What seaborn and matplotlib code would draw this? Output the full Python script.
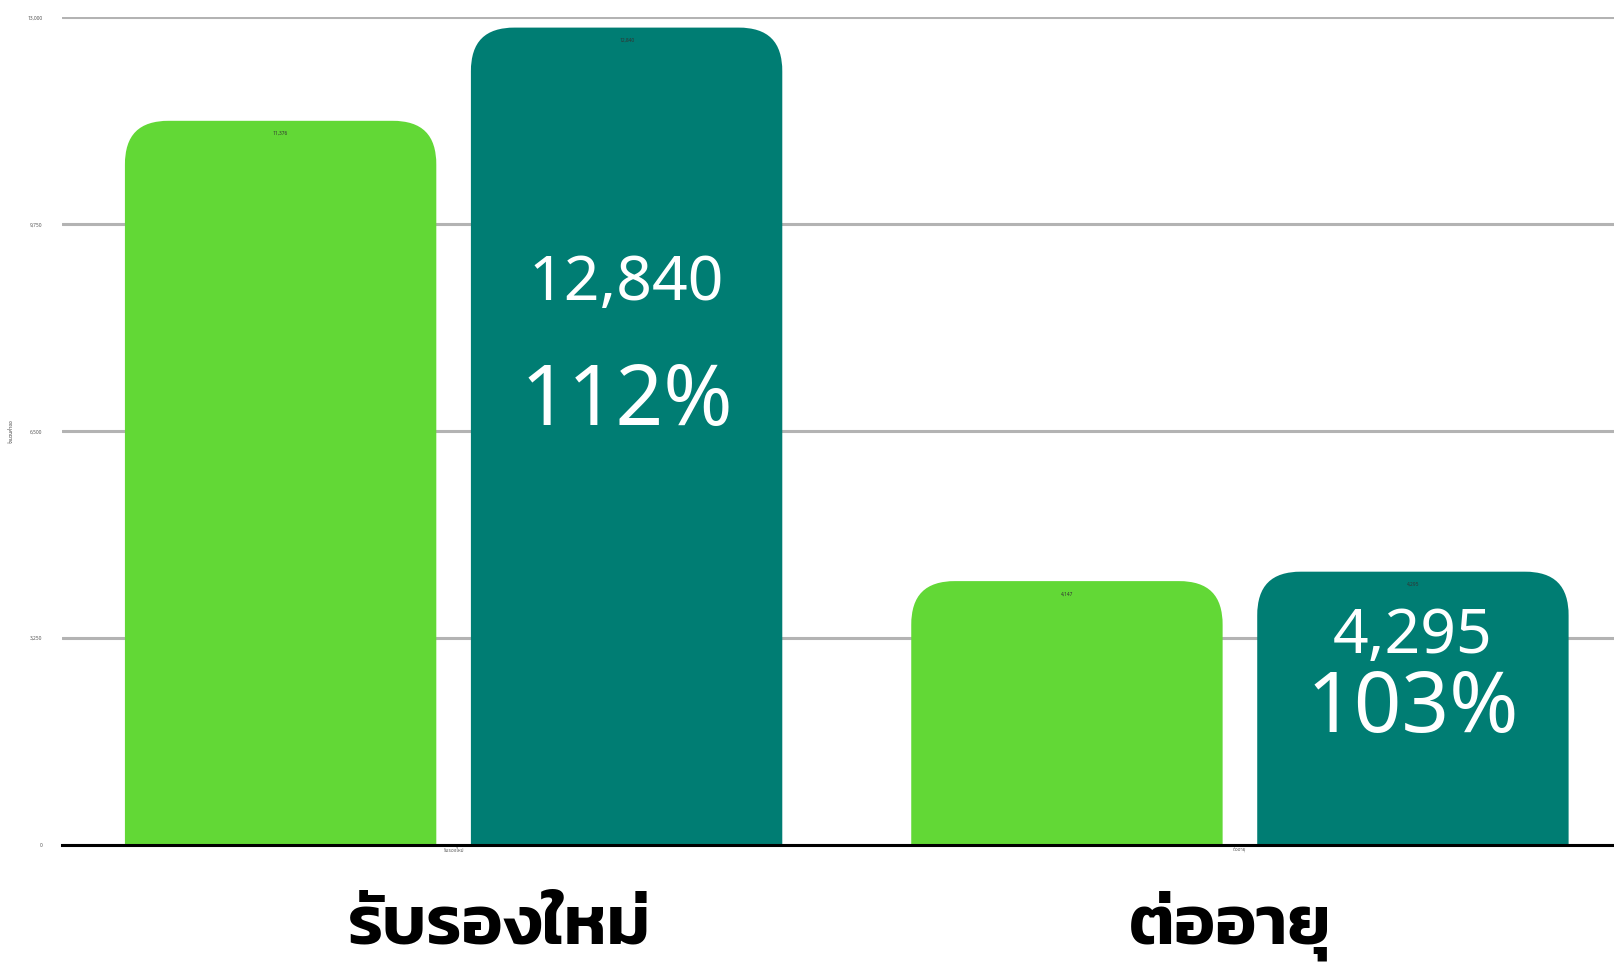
import pandas as pd
import matplotlib
matplotlib.use("Agg")
import matplotlib.pyplot as plt
import seaborn as sns
from matplotlib.path import Path
from matplotlib.patches import PathPatch

# data
categories = ["รับรองใหม่", "ต่ออายุ"]
series = ["เป้าหมาย", "ผลงาน"]
target = [11376, 4147]
actual = [12840, 4295]
percent = ["112%", "103%"]
y_ticks = [0, 3250, 6500, 9750, 13000]
y_label = "จำนวนคำขอ"

colors = ["#62D836", "#007D73"]

df = pd.DataFrame({
    "category": categories * 2,
    "series": [series[0]] * 2 + [series[1]] * 2,
    "value": target + actual,
})

sns.set_style("white")
thai = ["Anuphan", "IBM Plex Sans Thai", "Noto Sans Thai", "DejaVu Sans"]
thai_bold = ["Kanit", "Prompt", "IBM Plex Sans Thai", "DejaVu Sans"]
nums = ["Noto Sans", "DejaVu Sans"]
plt.rcParams["font.family"] = thai

W, H = 16.15, 9.67
fig = plt.figure(figsize=(W, H), dpi=100)
ax = fig.add_axes([0.0384, 0.126, 0.9616, 0.856])

sns.barplot(data=df, x="category", y="value", hue="series", palette=colors,
            width=0.88, gap=0.1, saturation=1, legend=False, ax=ax, zorder=3)

xlim = (-0.498, 1.477)
ylim = (0, 13000)
ax.set_xlim(xlim)
ax.set_ylim(ylim)

# tiny value labels just under the bar top
for cont in ax.containers:
    ax.bar_label(cont, labels=[f"{v:,.0f}" for v in cont.datavalues],
                 padding=-11, fontsize=3.5, color="#333333", zorder=5, family=nums)

# rounded top corners (radius in pixels -> data units)
ax_w_px = 0.9616 * W * 100
ax_h_px = 0.856 * H * 100
r_px = 44
rx = r_px * (xlim[1] - xlim[0]) / ax_w_px
ry = r_px * (ylim[1] - ylim[0]) / ax_h_px
k = 0.68
for p in list(ax.patches):
    x0, y0 = p.get_x(), p.get_y()
    w, h = p.get_width(), p.get_height()
    x1, y1 = x0 + w, y0 + h
    verts = [
        (x0, y0), (x0, y1 - ry),
        (x0, y1 - ry + k * ry), (x0 + rx - k * rx, y1), (x0 + rx, y1),
        (x1 - rx, y1),
        (x1 - rx + k * rx, y1), (x1, y1 - ry + k * ry), (x1, y1 - ry),
        (x1, y0), (x0, y0),
    ]
    codes = [Path.MOVETO, Path.LINETO,
             Path.CURVE4, Path.CURVE4, Path.CURVE4,
             Path.LINETO,
             Path.CURVE4, Path.CURVE4, Path.CURVE4,
             Path.LINETO, Path.CLOSEPOLY]
    ax.add_patch(PathPatch(Path(verts, codes), facecolor=p.get_facecolor(),
                           edgecolor="none", zorder=3))
    p.set_visible(False)

# big labels inside the dark bars
text_y = [(8820, 6940), (3270, 2130)]
for i, rect in enumerate(ax.containers[1]):
    cx = rect.get_x() + rect.get_width() / 2
    ax.text(cx, text_y[i][0], f"{actual[i]:,}", color="white", fontsize=45,
            ha="center", va="center", zorder=6, family=nums)
    ax.text(cx, text_y[i][1], percent[i], color="white", fontsize=60,
            ha="center", va="center", zorder=6, family=nums)

# category captions under the axis
caption_dx = [33, -7]
for i, cat in enumerate(categories):
    ax.annotate(cat, xy=(i, 0), xycoords=("data", "axes fraction"),
                xytext=(caption_dx[i], -71), textcoords="offset points",
                ha="center", va="baseline", fontsize=50, fontweight=600,
                color="black", family=thai_bold)

# axes styling
ax.set_yticks(y_ticks)
ax.set_yticklabels([f"{v:,}" for v in y_ticks], family=nums)
ax.tick_params(axis="y", labelsize=3.5, labelcolor="#555555", length=0, pad=14)
ax.tick_params(axis="x", labelsize=3.5, labelcolor="#555555", length=0, pad=2)
ax.set_xlabel("")
ax.set_ylabel(y_label, fontsize=3.5, color="#333333", labelpad=10)
ax.yaxis.grid(True, color="#B3B3B3", linewidth=2.2, zorder=0)
ax.set_axisbelow(True)
for s in ["top", "right", "left"]:
    ax.spines[s].set_visible(False)
ax.spines["bottom"].set_color("black")
ax.spines["bottom"].set_linewidth(2.2)
ax.spines["bottom"].set_zorder(4)

fig.savefig("out.png", dpi=100)
